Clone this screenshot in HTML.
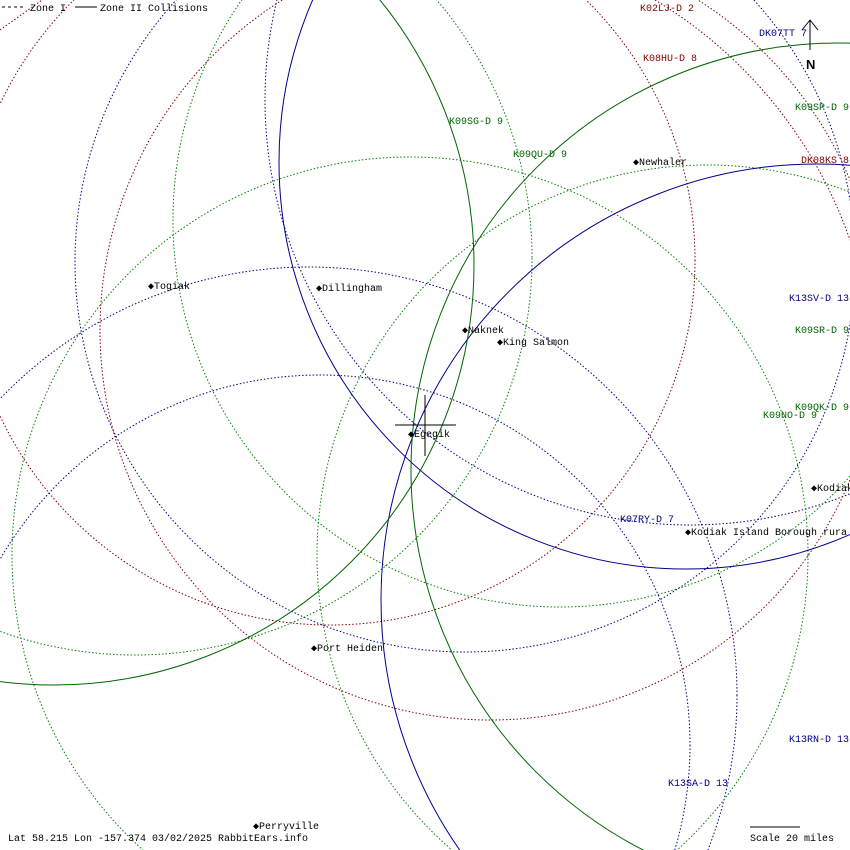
<!DOCTYPE html>
<html><head><meta charset="utf-8"><style>
html,body{margin:0;padding:0;background:#fff;width:850px;height:850px;overflow:hidden}
svg{display:block}
text{font-family:"Liberation Mono","DejaVu Sans Mono",monospace;font-size:10px}
</style></head><body>
<svg width="850" height="850" viewBox="0 0 850 850" xmlns="http://www.w3.org/2000/svg">
<rect width="850" height="850" fill="#fff"/>
<g fill="none" stroke-width="1">
<!-- dotted navy -->
<g stroke="#000080" stroke-dasharray="1.5 2">
<circle cx="309" cy="695" r="428"/>
<circle cx="320" cy="745" r="370"/>
<circle cx="465" cy="262" r="390"/>
<circle cx="690" cy="100" r="425"/>
</g>
<!-- dotted red -->
<g stroke="#800000" stroke-dasharray="1.5 2">
<circle cx="490" cy="330" r="390"/>
<circle cx="330" cy="260" r="365"/>
<path d="M655,0 A455,455 0 0 1 850,240"/>
<path d="M0,30 L42,0"/>
</g>
<!-- dotted green -->
<g stroke="#008000" stroke-dasharray="1.5 2">
<circle cx="410" cy="555" r="398"/>
<circle cx="707" cy="555" r="390"/>
<circle cx="560" cy="220" r="387"/>
<circle cx="135" cy="258" r="397"/>
</g>
<!-- solid -->
<circle cx="686" cy="162" r="407" stroke="#00008b"/>
<circle cx="817" cy="600" r="436" stroke="#00008b"/>
<circle cx="54" cy="265" r="420" stroke="#006400"/>
<circle cx="838" cy="470" r="427" stroke="#006400"/>
<!-- crosshair -->
<line x1="395" y1="425" x2="456" y2="425" stroke="#000"/>
<line x1="425" y1="395" x2="425" y2="456" stroke="#000"/>
<!-- north arrow -->
<line x1="810" y1="20" x2="810" y2="50" stroke="#000"/>
<polyline points="802,30 810,20 818,30" stroke="#000"/>
<!-- scale -->
<line x1="750" y1="827" x2="800" y2="827" stroke="#000"/>
<!-- legend lines -->
<line x1="2" y1="7" x2="26" y2="7" stroke="#000" stroke-dasharray="3 3"/>
<line x1="75" y1="7" x2="97" y2="7" stroke="#000"/>
</g>
<text x="806" y="69" style="font-weight:bold;font-size:13px;font-family:'Liberation Sans',sans-serif">N</text>
<g fill="#000">
<text x="30" y="11">Zone I</text>
<text x="100" y="11">Zone II Collisions</text>
</g>
<g fill="#800000">
<text x="640" y="11">K02LJ-D 2</text>
<text x="643" y="61">K08HU-D 8</text>
<text x="801" y="163">DK08KS 8</text>
</g>
<g fill="#000080">
<text x="759" y="36">DK07TT 7</text>
<text x="789" y="301">K13SV-D 13</text>
<text x="620" y="522">K07RY-D 7</text>
<text x="789" y="742">K13RN-D 13</text>
<text x="668" y="786">K13SA-D 13</text>
</g>
<g fill="#006400">
<text x="795" y="110">K09SP-D 9</text>
<text x="449" y="124">K09SG-D 9</text>
<text x="513" y="157">K09QU-D 9</text>
<text x="795" y="333">K09SR-D 9</text>
<text x="795" y="410">K09QK-D 9</text>
<text x="763" y="418">K09NO-D 9</text>
</g>
<g fill="#000">
<text x="633" y="165">◆Newhaler</text>
<text x="148" y="289">◆Togiak</text>
<text x="316" y="291">◆Dillingham</text>
<text x="462" y="333">◆Naknek</text>
<text x="497" y="345">◆King Salmon</text>
<text x="408" y="437">◆Egegik</text>
<text x="811" y="491">◆Kodiak</text>
<text x="685" y="535">◆Kodiak Island Borough rura</text>
<text x="311" y="651">◆Port Heiden</text>
<text x="253" y="829">◆Perryville</text>
<text x="8" y="841">Lat 58.215 Lon -157.374 03/02/2025 RabbitEars.info</text>
<text x="750" y="841">Scale 20 miles</text>
</g>
</svg>
</body></html>
